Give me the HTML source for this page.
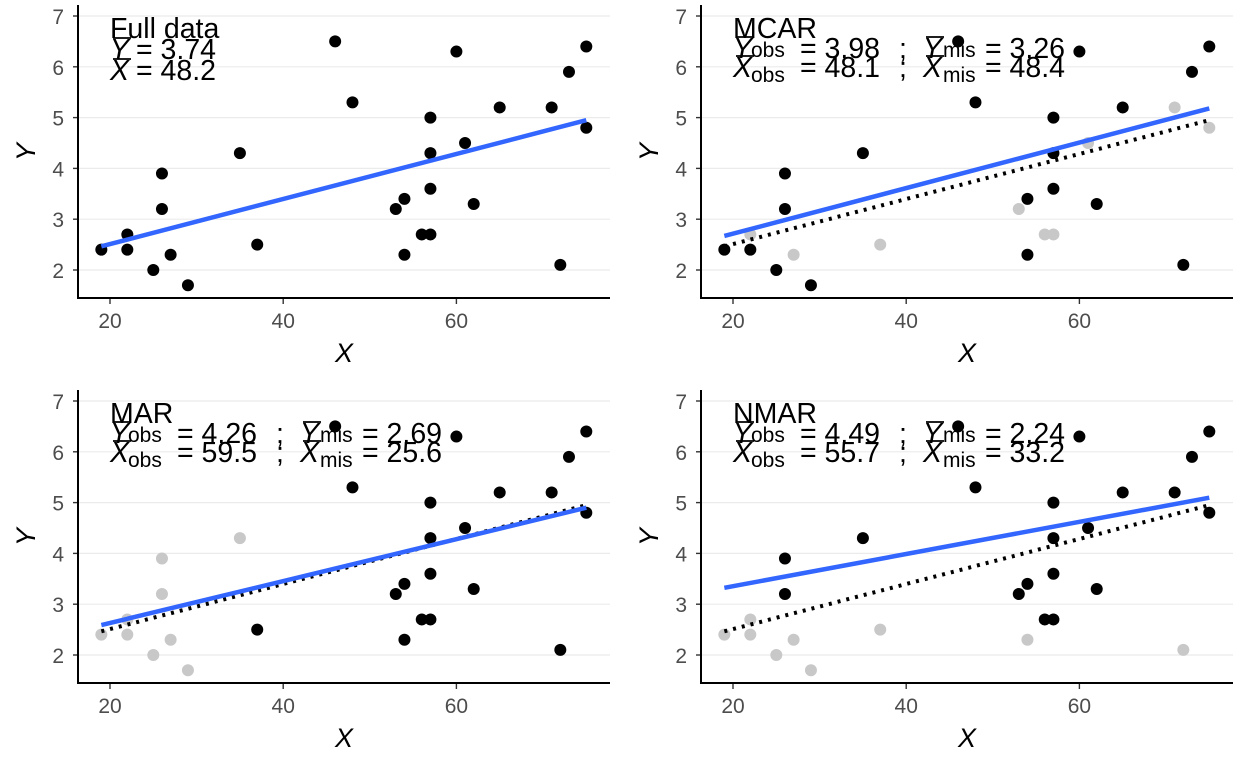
<!DOCTYPE html>
<html><head><meta charset="utf-8"><style>
body{margin:0;background:#fff}
svg{display:block;font-family:"Liberation Sans",sans-serif}
</style></head><body>
<svg id="c" width="1248" height="771" xmlns="http://www.w3.org/2000/svg"></svg>
<script>
const xs=[19,22,22,25,26,26,27,29,35,37,46,48,53,54,54,56,57,57,57,57,60,61,62,65,71,72,73,75,75];
const ys=[2.4,2.7,2.4,2.0,3.2,3.9,2.3,1.7,4.3,2.5,6.5,5.3,3.2,3.4,2.3,2.7,2.7,3.6,4.3,5.0,6.3,4.5,3.3,5.2,5.2,2.1,5.9,6.4,4.8];
const missMCAR=[[22,2.7],[27,2.3],[37,2.5],[53,3.2],[56,2.7],[57,2.7],[61,4.5],[71,5.2],[75,4.8]];
const missMAR=[[19,2.4],[22,2.7],[22,2.4],[25,2.0],[26,3.2],[26,3.9],[27,2.3],[29,1.7],[35,4.3]];
const missNMAR=[[19,2.4],[22,2.7],[22,2.4],[25,2.0],[27,2.3],[29,1.7],[37,2.5],[54,2.3],[72,2.1]];
const xTicks=[20,40,60];
const yTicks=[2,3,4,5,6,7];
const panels=[
 {name:"Full data",ox:0,oy:0,miss:null,vals:["3.74","48.2"]},
 {name:"MCAR",ox:623,oy:0,miss:missMCAR,vals:["3.98","3.26","48.1","48.4"]},
 {name:"MAR",ox:0,oy:385,miss:missMAR,vals:["4.26","2.69","59.5","25.6"]},
 {name:"NMAR",ox:623,oy:385,miss:missNMAR,vals:["4.49","2.24","55.7","33.2"]}
];
const svg=document.getElementById('c');
const NS='http://www.w3.org/2000/svg';
function mk(tag,at,parent){const e=document.createElementNS(NS,tag);for(const k in at)e.setAttribute(k,at[k]);(parent||svg).appendChild(e);return e;}
function fit(px,py){const n=px.length;const mx=px.reduce((a,b)=>a+b)/n,my=py.reduce((a,b)=>a+b)/n;let sxy=0,sxx=0;for(let i=0;i<n;i++){sxy+=(px[i]-mx)*(py[i]-my);sxx+=(px[i]-mx)**2;}const b=sxy/sxx;return [my-b*mx,b];}
panels.forEach((p,pi)=>{
 const g=mk('g',{});
 
 
 const X=x=>p.ox+110+(x-20)*8.66;
 const Y=y=>p.oy+16+(7-y)*50.8;
 const L=p.ox+78,R=p.ox+610,B=p.oy+298;
 yTicks.forEach(t=>{
  const gl=mk('line',{x1:L,x2:R,y1:Y(t),y2:Y(t),stroke:'#ebebeb','stroke-width':1.2},g);
  
  mk('line',{x1:L-5,x2:L,y1:Y(t),y2:Y(t),stroke:'#333','stroke-width':1.4},g);
  const tl=mk('text',{x:L-14,y:Y(t)+8,'text-anchor':'end','font-size':21,fill:'#4d4d4d'},g);tl.textContent=t;
  
 });
 xTicks.forEach(t=>{
  mk('line',{x1:X(t),x2:X(t),y1:B,y2:B+6,stroke:'#333','stroke-width':1.4},g);
  const tl=mk('text',{x:X(t),y:B+30,'text-anchor':'middle','font-size':21,fill:'#4d4d4d'},g);tl.textContent=t;
  
 });
 const ax=mk('path',{d:`M${L} ${p.oy+5}V${B}H${R}`,fill:'none',stroke:'#000','stroke-width':2},g);
 
 const xt=mk('text',{x:p.ox+344,y:B+64,'text-anchor':'middle','font-size':27,'font-style':'italic'},g);xt.textContent='X';
 
 const yt=mk('text',{x:0,y:0,transform:`translate(${p.ox+35},${p.oy+152}) rotate(-90)`,'text-anchor':'middle','font-size':27,'font-style':'italic'},g);yt.textContent='Y';
 
 const isMiss=(x,y)=>p.miss&&p.miss.some(m=>m[0]===x&&m[1]===y);
 const ox=[],oy=[];
 xs.forEach((x,i)=>{const m=isMiss(x,ys[i]);if(!m){ox.push(x);oy.push(ys[i]);}
  const c=mk('circle',{cx:X(x),cy:Y(ys[i]),r:6,fill:m?'#c8c8c8':'#000'},g);
  
 });
 if(p.miss){const [a,b]=fit(xs,ys);
  const dl=mk('line',{x1:X(19),y1:Y(a+b*19),x2:X(75),y2:Y(a+b*75),stroke:'#000','stroke-width':4,'stroke-dasharray':'3 6'},g);
  }
 const [a,b]=fit(ox,oy);
 const bl=mk('line',{x1:X(19),y1:Y(a+b*19),x2:X(75),y2:Y(a+b*75),stroke:'#3366ff','stroke-width':4.5},g);
 
 const T=(x,y,s,fs,it)=>{const t=mk('text',{x:p.ox+x,y:p.oy+y,'font-size':fs||28.5,'font-style':it?'italic':'normal'},g);t.textContent=s;return t;};
 const OL=(x,y)=>mk('line',{x1:p.ox+x+3,x2:p.ox+x+21,y1:p.oy+y,y2:p.oy+y,stroke:'#000','stroke-width':1.8},g);
 T(110,38,p.name);
 if(!p.miss){
  T(110,59,'Y',28.5,true);OL(110,38);T(136,59,'= '+p.vals[0]);
  T(110,80,'X',28.5,true);OL(110,59);T(136,80,'= '+p.vals[1]);
 }else{
  T(110,58,'Y',28.5,true);OL(110,37);T(128,57,'obs',21);T(177,58,'= '+p.vals[0]);T(276,58,';');
  T(300,58,'Y',28.5,true);OL(300,37);T(320,57,'mis',21);T(362,58,'= '+p.vals[1]);
  T(110,77,'X',28.5,true);OL(110,56);T(128,82,'obs',21);T(177,77,'= '+p.vals[2]);T(276,77,';');
  T(300,77,'X',28.5,true);OL(300,56);T(320,82,'mis',21);T(362,77,'= '+p.vals[3]);
 }
});
</script>
</body></html>
